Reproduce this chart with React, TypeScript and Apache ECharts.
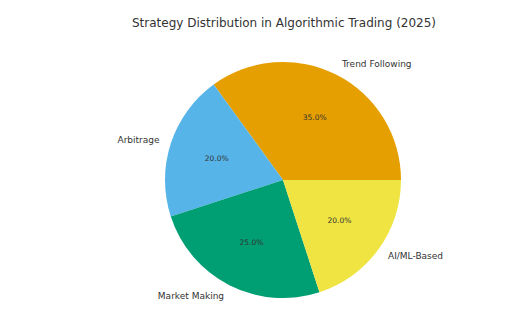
import React, { useEffect, useRef } from "react";
import * as echarts from "echarts";

const categories = ["Trend Following", "Arbitrage", "Market Making", "AI/ML-Based"];
const shares = [35, 20, 25, 20];
const colors = ["#E69F00", "#56B4E9", "#009E73", "#F0E442"];
const titleText = "Strategy Distribution in Algorithmic Trading (2025)";

export default function App() {
  const ref = useRef<HTMLDivElement>(null);
  useEffect(() => {
    if (!ref.current) return;
    const chart = echarts.init(ref.current, null, { renderer: "svg" });
    const R = 118;
    const center = [283, 180];
    const font = "DejaVu Sans";
    const base = categories.map((c, i) => ({ name: c, value: shares[i] }));
    chart.setOption({
      animation: false,
      backgroundColor: "#ffffff",
      title: {
        text: titleText,
        left: 279,
        textAlign: "center",
        top: 12,
        textStyle: { fontFamily: font, fontSize: 12, fontWeight: "normal", color: "#333333" },
      },
      series: [
        {
          type: "pie",
          center,
          radius: [0, R],
          startAngle: 0,
          clockwise: false,
          silent: true,
          label: { show: false },
          labelLine: { show: false },
          data: base.map((d, i) => ({ ...d, itemStyle: { color: colors[i] } })),
        },
        {
          type: "pie",
          center,
          radius: [0, R * 1.13],
          startAngle: 0,
          clockwise: false,
          silent: true,
          z: 5,
          itemStyle: { color: "rgba(0,0,0,0)" },
          label: {
            show: true,
            position: "inside",
            fontFamily: font,
            fontSize: 7.5,
            fontWeight: "normal",
            color: "#333333",
            textBorderWidth: 0,
            formatter: (p: any) => p.percent.toFixed(1) + "%",
          },
          labelLine: { show: false },
          data: base,
        },
        {
          type: "pie",
          center,
          radius: [0, R * 1.1],
          startAngle: 0,
          clockwise: false,
          silent: true,
          z: 5,
          avoidLabelOverlap: false,
          itemStyle: { color: "rgba(0,0,0,0)" },
          label: {
            show: true,
            position: "outside",
            distanceToLabelLine: 0,
            fontFamily: font,
            fontSize: 9,
            color: "#333333",
            formatter: "{b}",
          },
          labelLine: { show: false, length: 0, length2: 0 },
          data: base,
        },
      ],
    });
    return () => chart.dispose();
  }, []);
  return (
    <div
      ref={ref}
      style={{ position: "fixed", left: 0, top: 0, width: 518, height: 325 }}
    />
  );
}
